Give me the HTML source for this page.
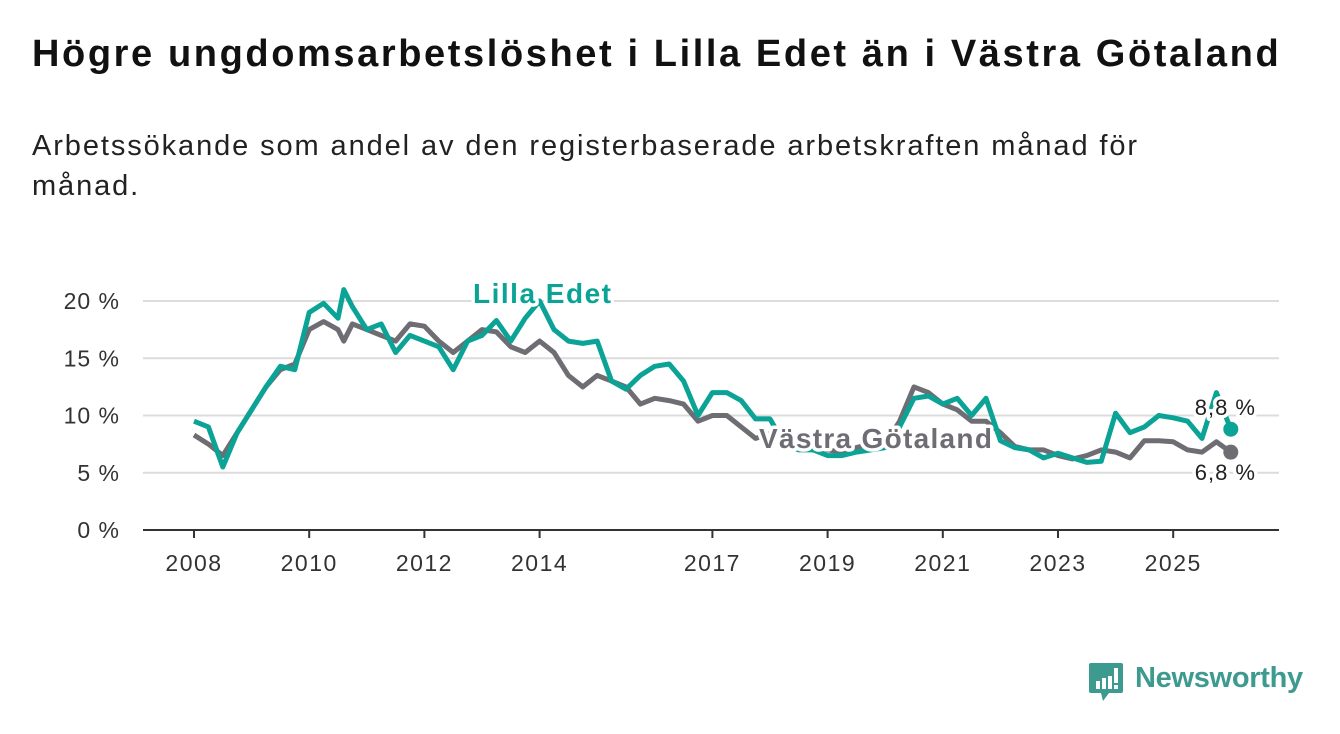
<!DOCTYPE html>
<html><head><meta charset="utf-8">
<style>
body{margin:0;background:#fff;font-family:"Liberation Sans","DejaVu Sans",sans-serif;}
#wrap{position:relative;width:1340px;height:734px;overflow:hidden;}
h1{position:absolute;left:32px;top:33px;margin:0;font-size:38px;font-weight:bold;color:#111;letter-spacing:2.6px;white-space:nowrap;}
.sub{position:absolute;left:32px;top:126px;margin:0;font-size:29px;line-height:40px;color:#222;width:1200px;letter-spacing:1.9px;}
svg text{font-family:"Liberation Sans","DejaVu Sans",sans-serif;}
</style></head><body>
<div id="wrap">
<h1>Högre ungdomsarbetslöshet i Lilla Edet än i Västra Götaland</h1>
<p class="sub">Arbetssökande som andel av den registerbaserade arbetskraften månad för månad.</p>
<svg id="chart" width="1340" height="734" style="position:absolute;left:0;top:0"></svg>
<div style="position:absolute;left:1089px;top:663px;width:220px;height:42px;">
<svg width="36" height="42" style="position:absolute;left:0;top:0"><path d="M2 0h30a2 2 0 0 1 2 2v26a2 2 0 0 1-2 2H20l-6 8l-2-8H2a2 2 0 0 1-2-2V2a2 2 0 0 1 2-2z" fill="#3d9a8f"/><rect x="7" y="18" width="4" height="8" fill="#fff"/><rect x="13" y="15" width="4" height="11" fill="#fff"/><rect x="19" y="13" width="4" height="13" fill="#fff"/><rect x="25" y="5" width="4" height="15" fill="#fff"/><rect x="25" y="22" width="4" height="4" fill="#fff"/></svg>
<span style="position:absolute;left:46px;top:-1px;font-size:29px;color:#3d9a8f;font-weight:bold;letter-spacing:-0.3px;">Newsworthy</span>
</div>
</div>
<script>
const times=[2008,2008.25,2008.5,2008.75,2009,2009.25,2009.5,2009.75,2010,2010.25,2010.5,2010.6,2010.75,2011,2011.25,2011.5,2011.75,2012,2012.25,2012.5,2012.75,2013,2013.25,2013.5,2013.75,2014,2014.25,2014.5,2014.75,2015,2015.25,2015.5,2015.75,2016,2016.25,2016.5,2016.75,2017,2017.25,2017.5,2017.75,2018,2018.25,2018.5,2018.75,2019,2019.25,2019.5,2019.75,2020,2020.25,2020.5,2020.75,2021,2021.25,2021.5,2021.75,2022,2022.25,2022.5,2022.75,2023,2023.25,2023.5,2023.75,2024,2024.25,2024.5,2024.75,2025,2025.25,2025.5,2025.75,2026];
const vastra=[8.3,7.5,6.5,8.5,10.5,12.5,14,14.5,17.5,18.2,17.5,16.5,18,17.5,17,16.5,18,17.8,16.5,15.5,16.5,17.5,17.3,16,15.5,16.5,15.5,13.5,12.5,13.5,13,12.5,11,11.5,11.3,11,9.5,10,10,9,8,8.4,8,7.5,7,7,6.8,7.2,7.5,7.5,9.5,12.5,12,11,10.5,9.5,9.5,8.5,7.3,7,7,6.5,6.2,6.5,7,6.8,6.3,7.8,7.8,7.7,7,6.8,7.7,6.8];
const lilla=[9.5,9,5.5,8.5,10.5,12.5,14.3,14,19,19.8,18.5,21,19.5,17.5,18,15.5,17,16.5,16,14,16.5,17,18.3,16.5,18.5,20,17.5,16.5,16.3,16.5,13,12.3,13.5,14.3,14.5,13,10,12,12,11.3,9.7,9.7,7.5,7,7,6.5,6.5,6.8,7,7.2,9,11.5,11.7,11,11.5,10,11.5,7.8,7.2,7,6.3,6.7,6.3,5.9,6,10.2,8.5,9,10,9.8,9.5,8,12,8.8];
const yTicks=[0,5,10,15,20];
const xTicks=[2008,2010,2012,2014,2017,2019,2021,2023,2025];
const X=t=>194+(t-2008)*57.6;
const Y=v=>530-v*11.45;
const svg=document.getElementById('chart');
const NS='http://www.w3.org/2000/svg';
function mk(tag,a){const e=document.createElementNS(NS,tag);for(const k in a)e.setAttribute(k,a[k]);svg.appendChild(e);return e;}
yTicks.forEach(v=>{
 if(v>0){const g=mk('line',{x1:143,x2:1279,y1:Y(v),y2:Y(v),stroke:'#dcdcdc','stroke-width':2});
 
 }
 const t=mk('text',{x:120,y:Y(v)+8,'text-anchor':'end','font-size':23,'letter-spacing':1,fill:'#333'});t.textContent=v+' %';
 
 
});
const ax=mk('line',{x1:143,x2:1279,y1:530,y2:530,stroke:'#333','stroke-width':2});


xTicks.forEach(yr=>{
 const tk=mk('line',{x1:X(yr),x2:X(yr),y1:530,y2:538,stroke:'#333','stroke-width':2});
 
 
 const t=mk('text',{x:X(yr),y:571,'text-anchor':'middle','font-size':23,'letter-spacing':1.5,fill:'#333'});t.textContent=yr;
 
 
});
function line(vals,col,name){
 const n=Math.min(vals.length,times.length)-1;
 const d=vals.slice(0,n+1).map((v,i)=>(i?'L':'M')+X(times[i]).toFixed(1)+' '+Y(v).toFixed(1)).join(' ');
 const p=mk('path',{d:d,fill:'none',stroke:col,'stroke-width':5,'stroke-linejoin':'round'});
 
 
 const c=mk('circle',{cx:X(times[n]),cy:Y(vals[n]),r:7.5,fill:col});
 
 
}
line(vastra,'#6e6d73','vastra-gotaland-line');
line(lilla,'#0aa396','lilla-edet-line');
function lab(x,y,txt,col,size,bold,ls,name,anchor){
 const t=mk('text',{x:x,y:y,'font-size':size,'font-weight':bold?'bold':'normal','letter-spacing':ls,fill:col,stroke:'#fff','stroke-width':7,'paint-order':'stroke','stroke-linejoin':'round','text-anchor':anchor||'start'});
 t.textContent=txt;
 
 
}
lab(473,303,'Lilla Edet','#0aa396',28,true,1.5,'lilla-edet-label');
lab(759,448,'Västra Götaland','#6e6d73',28,true,1.3,'vastra-gotaland-label');
lab(1256,415,'8,8 %','#222',22,false,1,'lilla-edet-last-value','end');
lab(1256,480,'6,8 %','#222',22,false,1,'vastra-gotaland-last-value','end');
</script>
</body></html>
